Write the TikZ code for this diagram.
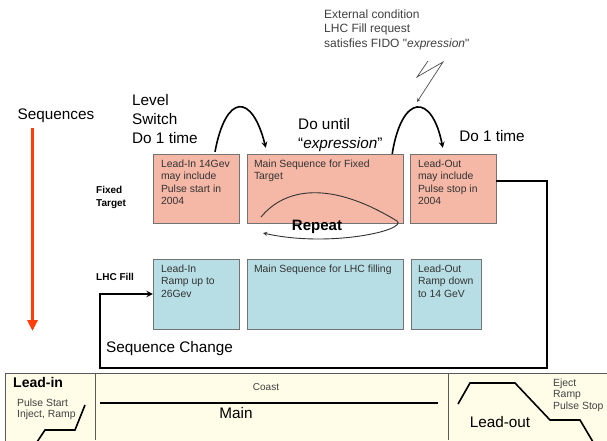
\documentclass[tikz,border=0pt]{standalone}
\usepackage{fontspec}
\setmainfont{Liberation Sans}
\usetikzlibrary{arrows.meta}
\definecolor{ftpink}{RGB}{245,183,166}
\definecolor{lhcblue}{RGB}{183,222,228}
\definecolor{stripbg}{RGB}{255,253,232}
\definecolor{seqred}{RGB}{255,60,10}
\begin{document}
\begin{tikzpicture}[
    x=1pt, y=-1pt,
    >=stealth,
    seqbox/.style={draw=black!55, minimum height=69pt, inner sep=0pt},
    ft/.style={seqbox, fill=ftpink},
    lhc/.style={seqbox, fill=lhcblue, minimum height=70pt},
    boxtext/.style={anchor=north west, inner sep=0pt, align=left, text=black!80, font=\fontsize{10.4}{12.3}\selectfont},
    big/.style={inner sep=0pt, align=left, font=\fontsize{15.3}{19}\selectfont},
    rowlabel/.style={inner sep=0pt, align=left, font=\fontsize{10}{13}\selectfont\bfseries},
    note/.style={inner sep=0pt, align=left, text=black!75, font=\fontsize{10.4}{11.2}\selectfont},
    loop/.style={->, line width=1.6pt}
    ]
    \useasboundingbox (0,0) rectangle (607,440);
    \clip (0,0) rectangle (607,440);

    % sequence boxes
    \node[ft, minimum width=86pt] (liFT) at (196,188.5) {};
    \node[ft, minimum width=156pt] (mainFT) at (325,188.5) {};
    \node[ft, minimum width=86pt] (loFT) at (453,188.5) {};
    \node[lhc, minimum width=86pt] (liLHC) at (196,294) {};
    \node[lhc, minimum width=156pt] (mainLHC) at (325,294) {};
    \node[lhc, minimum width=70pt] (loLHC) at (446,294) {};

    \node[boxtext] (liFTtxt) at ([xshift=8pt,yshift=-6pt]liFT.north west) {Lead-In 14Gev\\may include\\Pulse start in\\2004};
    \node[boxtext] (mainFTtxt) at ([xshift=7pt,yshift=-6pt]mainFT.north west) {Main Sequence for Fixed\\Target};
    \node[boxtext] (loFTtxt) at ([xshift=8pt,yshift=-6pt]loFT.north west) {Lead-Out\\may include\\Pulse stop in\\2004};
    \node[boxtext] (liLHCtxt) at ([xshift=8pt,yshift=-6pt]liLHC.north west) {Lead-In\\Ramp up to\\26Gev};
    \node[boxtext] (mainLHCtxt) at ([xshift=7pt,yshift=-6pt]mainLHC.north west) {Main Sequence for LHC filling};
    \node[boxtext] (loLHCtxt) at ([xshift=7pt,yshift=-6pt]loLHC.north west) {Lead-Out\\Ramp down\\to 14 GeV};

    % row labels
    \node[rowlabel, anchor=north west] (ftlbl) at (96,186) {Fixed\\Target};
    \node[rowlabel, anchor=west] (lhclbl) at (96,277) {LHC Fill};

    % sequences arrow
    \node[big] (seqlbl) at (56,116) {Sequences};
    \coordinate (seqtop) at (32.5,128);
    \coordinate (seqend) at (32.5,331);
    \draw[-{Triangle[length=11pt,width=10pt]}, seqred, line width=2.8pt] (seqtop) -- (seqend);

    % transitions
    \node[big, anchor=north west] (switchlbl) at (132,94) {Level\\Switch\\Do 1 time};
    \node[big, anchor=north west] (untillbl) at (298,118) {Do until\\“\textit{expression}”};
    \node[big] (oncelbl) at (492,136) {Do 1 time};
    \draw[loop] ([xshift=19pt,yshift=2pt]liFT.north) .. controls (226,93) and (252,93) .. ([xshift=19pt,yshift=6pt]mainFT.north west);
    \draw[loop] ([xshift=-11pt]mainFT.north east) .. controls (402,93) and (432,93) .. ([xshift=33pt,yshift=6pt]loFT.north west);

    % external trigger
    \node[note, anchor=north west, font=\fontsize{12}{14.5}\selectfont] (extlbl) at (324,9.5) {External condition\\LHC Fill request\\satisfies FIDO \textquotedbl\textit{expression}\textquotedbl};
    \coordinate (bolt) at (428,61);
    \coordinate (fillreq) at (417,102);
    \draw[->, black!70, line width=0.7pt] (bolt) -- (417,77) -- (443,62) -- (fillreq);

    % repeat loop
    \coordinate (rptA) at (261,217);
    \coordinate (rptB) at (263,233);
    \draw[->, black!80, line width=0.9pt] (rptA) .. controls (285,188) and (330,180) .. (397,221) .. controls (408,230) and (330,248) .. (rptB);
    \node[big, font=\fontsize{15}{18}\selectfont\bfseries] (rptlbl) at (317,227) {Repeat};

    % sequence change
    \draw[->, line width=1.8pt] ([yshift=7.5pt]loFT.east) -- (547,181) -- (547,368) -- (100,368) |- (liLHC.west);
    \node[big, anchor=west] (chglbl) at (106,349) {Sequence Change};

    % cycle strip
    \draw[draw=black!65, fill=stripbg] (5,373) rectangle (620,450);
    \draw[black!65] (95,373) -- (95,440);
    \draw[black!65] (448,373) -- (448,440);
    \draw[line width=1.6pt] (37,442) -- (45,430) -- (75,430) -- (85,405);
    \draw[line width=2pt] (100,403) -- (438,403);
    \draw[line width=1.6pt] (458,404) -- (470,383) -- (515,383) -- (550,420) -- (580,420) -- (593,442);

    \node[inner sep=0pt, anchor=west, font=\fontsize{14}{16}\selectfont\bfseries] (leadin) at (13,382) {Lead-in};
    \node[note, anchor=north west] (leadinnote) at (17,399) {Pulse Start\\Inject, Ramp};
    \node[inner sep=0pt, text=black!75, font=\fontsize{10}{12}\selectfont] (coast) at (266,387) {Coast};
    \node[big] (main) at (236,413) {Main};
    \node[big] (leadout) at (500,422) {Lead-out};
    \node[note, anchor=north west] (leadoutnote) at (553,379) {Eject\\Ramp\\Pulse Stop};
\end{tikzpicture}
\end{document}
